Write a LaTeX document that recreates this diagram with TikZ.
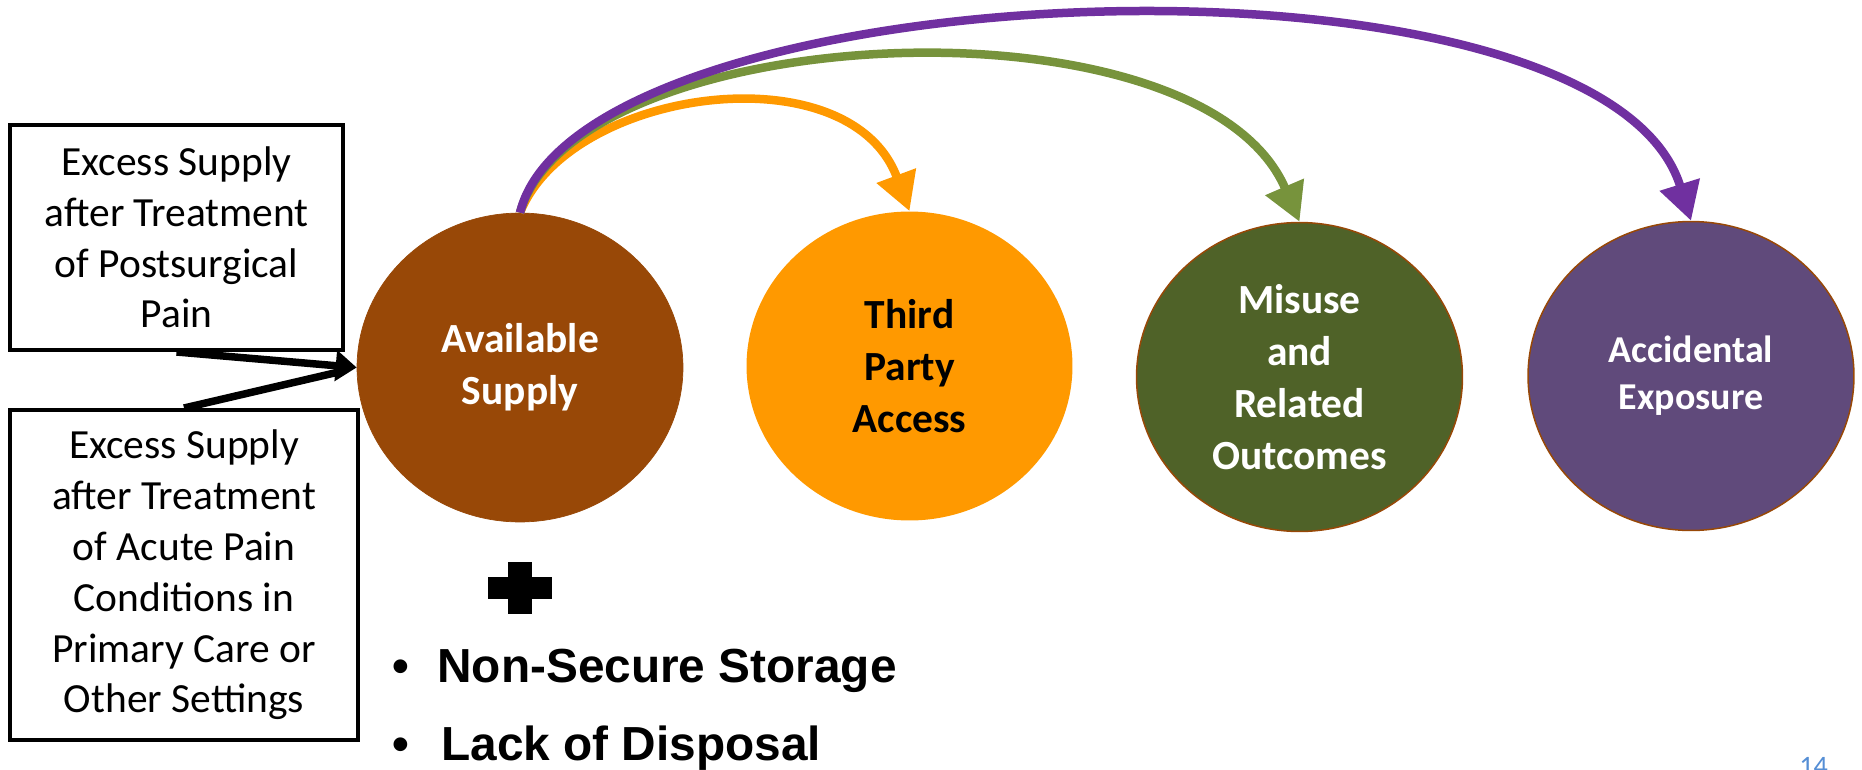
\documentclass[tikz,border=0pt]{standalone}
\usepackage{fontspec}
\setmainfont{Carlito}
\newfontfamily\bulletfont{Liberation Sans}
\usetikzlibrary{shapes.geometric,arrows.meta}
\definecolor{supplybrown}{HTML}{984807}
\definecolor{accessorange}{HTML}{FF9900}
\definecolor{misusegreen}{HTML}{4F6228}
\definecolor{misuseline}{HTML}{77933C}
\definecolor{exposurepurple}{HTML}{604A7B}
\definecolor{exposureline}{HTML}{7030A0}
\definecolor{slideblue}{HTML}{558ED5}
\begin{document}
\begin{tikzpicture}[x=0.02cm,y=-0.02cm,
  oval/.style={ellipse,minimum width=6.52cm,minimum height=6.18cm,inner sep=0pt,align=center,
    font=\fontsize{23.6}{29.6}\selectfont\bfseries},
  srcbox/.style={draw,line width=0.08cm,align=center,inner sep=0pt,
    font=\fontsize{23.6}{28.9}\selectfont},
  listitem/.style={anchor=base west,inner sep=0pt,font=\bulletfont\bfseries\fontsize{27.2}{27.2}\selectfont},
  feed/.style={line width=0.15cm,-{Triangle[length=0.42cm,width=0.6cm]}},
  flow/.style={line width=0.17cm,-{Triangle[length=0.76cm,width=0.8cm]}}]
\useasboundingbox (0,0) rectangle (1862,770);
% sources
\node[srcbox,minimum width=6.66cm,minimum height=4.5cm] (post) at (176.5,237.5)
  {Excess Supply\\after Treatment\\of Postsurgical\\Pain};
\node[srcbox,minimum width=6.96cm,minimum height=6.6cm] (acute) at (184,575)
  {Excess Supply\\after Treatment\\of Acute Pain\\Conditions in\\Primary Care or\\Other Settings};
% outcomes
\node[oval,fill=supplybrown,draw=supplybrown,text=white] (avail) at (520,367.5) {Available\\Supply};
\node[oval,fill=accessorange,text=black] (third) at (909.5,366) {Third\\Party\\Access};
\node[oval,fill=misusegreen,draw=supplybrown,line width=0.03cm,text=white] (misuse) at (1299.5,377)
  {Misuse\\and\\Related\\Outcomes};
\node[oval,fill=exposurepurple,draw=supplybrown,line width=0.03cm,text=white,
  font=\fontsize{21.6}{26.8}\selectfont\bfseries] (accid) at (1691,376) {Accidental\\Exposure};
\coordinate (join) at (343,371);
\draw[feed] (post.south) -- (avail.west);
\draw[line width=0.15cm] (acute.north) -- (join);
\draw[flow,accessorange] (avail.north) .. controls +(50,-125) and +(-60,-161) .. (third.north);
\draw[flow,misuseline] (avail.north) .. controls +(55,-193) and +(-100,-233) .. (misuse.north);
\draw[flow,exposureline] (avail.north) .. controls +(60,-243) and +(-91,-292) .. (accid.north);
% plus and list
\fill (508,562) rectangle (532,614);
\fill (488,577) rectangle (552,599);
\node[listitem] (storage) at (392,682) {\makebox[0.9cm][l]{•}Non-Secure Storage};
\node[listitem] (disposal) at (392,760) {\makebox[0.98cm][l]{•}Lack of Disposal};
\node[anchor=north west,inner sep=0pt,text=slideblue,font=\fontsize{16}{16}\selectfont] (pagenum)
  at (1799,757) {14};
\end{tikzpicture}
\end{document}
